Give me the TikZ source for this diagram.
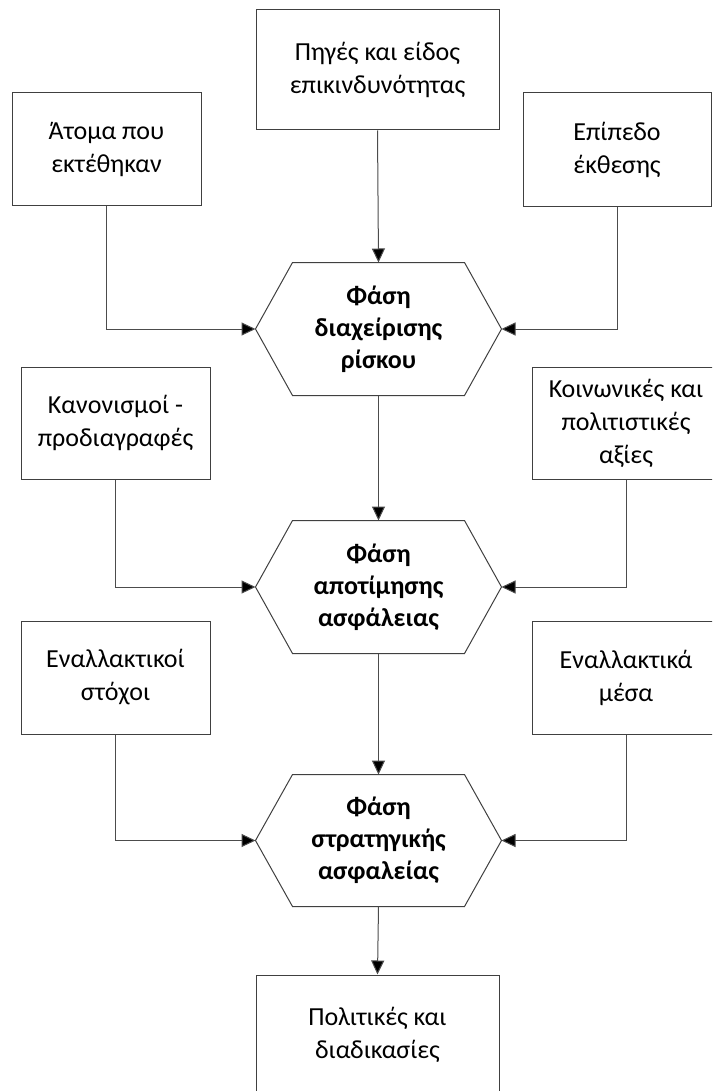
\documentclass[tikz,border=0pt]{standalone}
\usepackage{fontspec}
\setmainfont{Carlito}
\usetikzlibrary{arrows.meta}
\begin{document}
\begin{tikzpicture}[x=1pt,y=-1pt,
  line width=1pt,
  box/.style={draw=black!75, rectangle, align=center, font=\fontsize{26}{33}\selectfont,
              inner sep=0pt, minimum width=189pt, minimum height=113pt},
  phase/.style={rectangle, align=center, font=\fontsize{26}{32}\selectfont\bfseries,
                inner sep=0pt, minimum width=245pt, minimum height=132pt},
  link/.style={draw=black!70, -{Triangle[length=14pt,width=13pt,fill=black]}}
]
\useasboundingbox (0,0) rectangle (712,1091);
\clip (0,0) rectangle (712,1091);

% input boxes
\node[box, minimum width=243pt, minimum height=120pt] (src) at (377.5,70) {Πηγές και είδος\\επικινδυνότητας};
\node[box] (ppl) at (106.5,149.5) {Άτομα που\\εκτέθηκαν};
\node[box, minimum width=188pt, minimum height=114pt] (lvl) at (617,150) {Επίπεδο\\έκθεσης};
\node[box, minimum height=112pt] (reg) at (115.5,423) {Κανονισμοί -\\προδιαγραφές};
\node[box, minimum width=188pt, minimum height=112pt] (soc) at (626,423) {Κοινωνικές και\\πολιτιστικές\\αξίες};
\node[box] (goal) at (115.5,677.5) {Εναλλακτικοί\\στόχοι};
\node[box, minimum width=188pt] (mean) at (626,677.5) {Εναλλακτικά\\μέσα};
\node[box, minimum width=243pt, minimum height=120pt] (pol) at (377.5,1035) {Πολιτικές και\\διαδικασίες};

% phases (hexagons)
\node[phase] (h1) at (378.5,329) {Φάση\\διαχείρισης\\ρίσκου};
\node[phase] (h2) at (378.5,587) {Φάση\\αποτίμησης\\ασφάλειας};
\node[phase, minimum height=131pt] (h3) at (378.5,840.5) {Φάση\\στρατηγικής\\ασφαλείας};
\foreach \h in {h1,h2,h3}{
  \draw[black!75] ([xshift=37pt]\h.north west) -- ([xshift=-37pt]\h.north east) -- (\h.east)
    -- ([xshift=-37pt]\h.south east) -- ([xshift=37pt]\h.south west) -- (\h.west) -- cycle;
}

% connectors
\draw[link] (src.south) -- (h1.north);
\draw[link] (ppl.south) |- (h1.west);
\draw[link] (lvl.south) |- (h1.east);
\draw[link] (h1.south) -- (h2.north);
\draw[link] (reg.south) |- (h2.west);
\draw[link] (soc.south) |- (h2.east);
\draw[link] (h2.south) -- (h3.north);
\draw[link] (goal.south) |- (h3.west);
\draw[link] (mean.south) |- (h3.east);
\draw[link] (h3.south) -- (pol.north);
\end{tikzpicture}
\end{document}
